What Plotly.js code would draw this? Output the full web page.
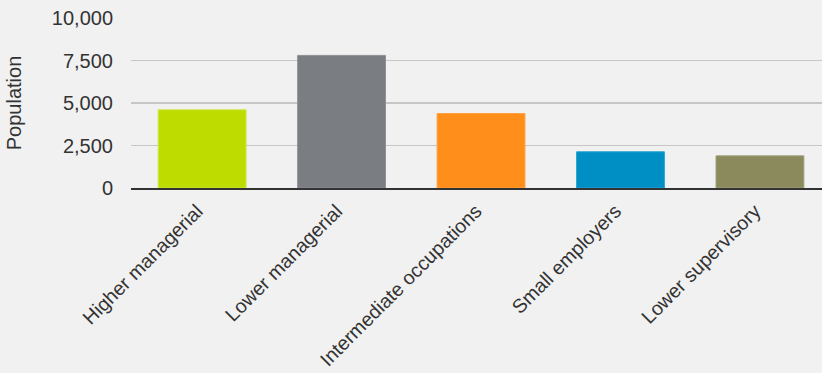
<!DOCTYPE html>
<html>
<head>
<meta charset="utf-8">
<script src="https://cdn.plot.ly/plotly-3.0.1.min.js"></script>
<style>html,body{margin:0;padding:0;background:#f1f1f1;}#chart{width:822px;height:373px;}</style>
</head>
<body>
<div id="chart"></div>
<script>
const categories = ["Higher managerial", "Lower managerial", "Intermediate occupations", "Small employers", "Lower supervisory"];
const population = [4600, 7800, 4380, 2130, 1890];
const barColors = ["#bfdc00", "#7a7d81", "#ff8f1a", "#008fc4", "#8a8a5c"];
const barLines = ["#cde64a", "#8e9195", "#ffa243", "#2aa3d2", "#a0a07a"];
const yTicks = [0, 2500, 5000, 7500, 10000];
const yTickText = ["0", "2,500", "5,000", "7,500", "10,000"];

const font = {family: "Liberation Sans, Arial, sans-serif", size: 20, color: "#333333"};
const xFont = {family: "Liberation Sans, Arial, sans-serif", size: 19.6, color: "#333333"};

Plotly.newPlot("chart", [{
  type: "bar",
  x: categories,
  y: population,
  marker: {color: barColors, line: {color: barLines, width: 1}},
  hoverinfo: "x+y"
}], {
  width: 822, height: 373,
  paper_bgcolor: "#f1f1f1",
  plot_bgcolor: "#f1f1f1",
  margin: {l: 131, r: 0, t: 18, b: 185},
  bargap: 0.37,
  showlegend: false,
  font: font,
  xaxis: {
    type: "category",
    range: [-0.51, 4.445],
    tickangle: -45,
    showgrid: false,
    showline: true,
    linecolor: "#333333",
    linewidth: 2,
    ticks: "",
    tickfont: xFont,
    ticklabelshift: -5,
    ticklabelstandoff: 2,
    zeroline: false,
    automargin: false
  },
  yaxis: {
    range: [0, 10000],
    tickvals: yTicks,
    ticktext: yTickText,
    showgrid: true,
    gridcolor: "#c6c6c6",
    gridwidth: 1.8,
    zeroline: false,
    showline: false,
    ticks: "",
    ticklabelstandoff: 17,
    tickfont: font,
    automargin: false,
    title: {text: "Population", font: font, standoff: 24}
  }
}, {displayModeBar: false, staticPlot: true});
</script>
</body>
</html>
